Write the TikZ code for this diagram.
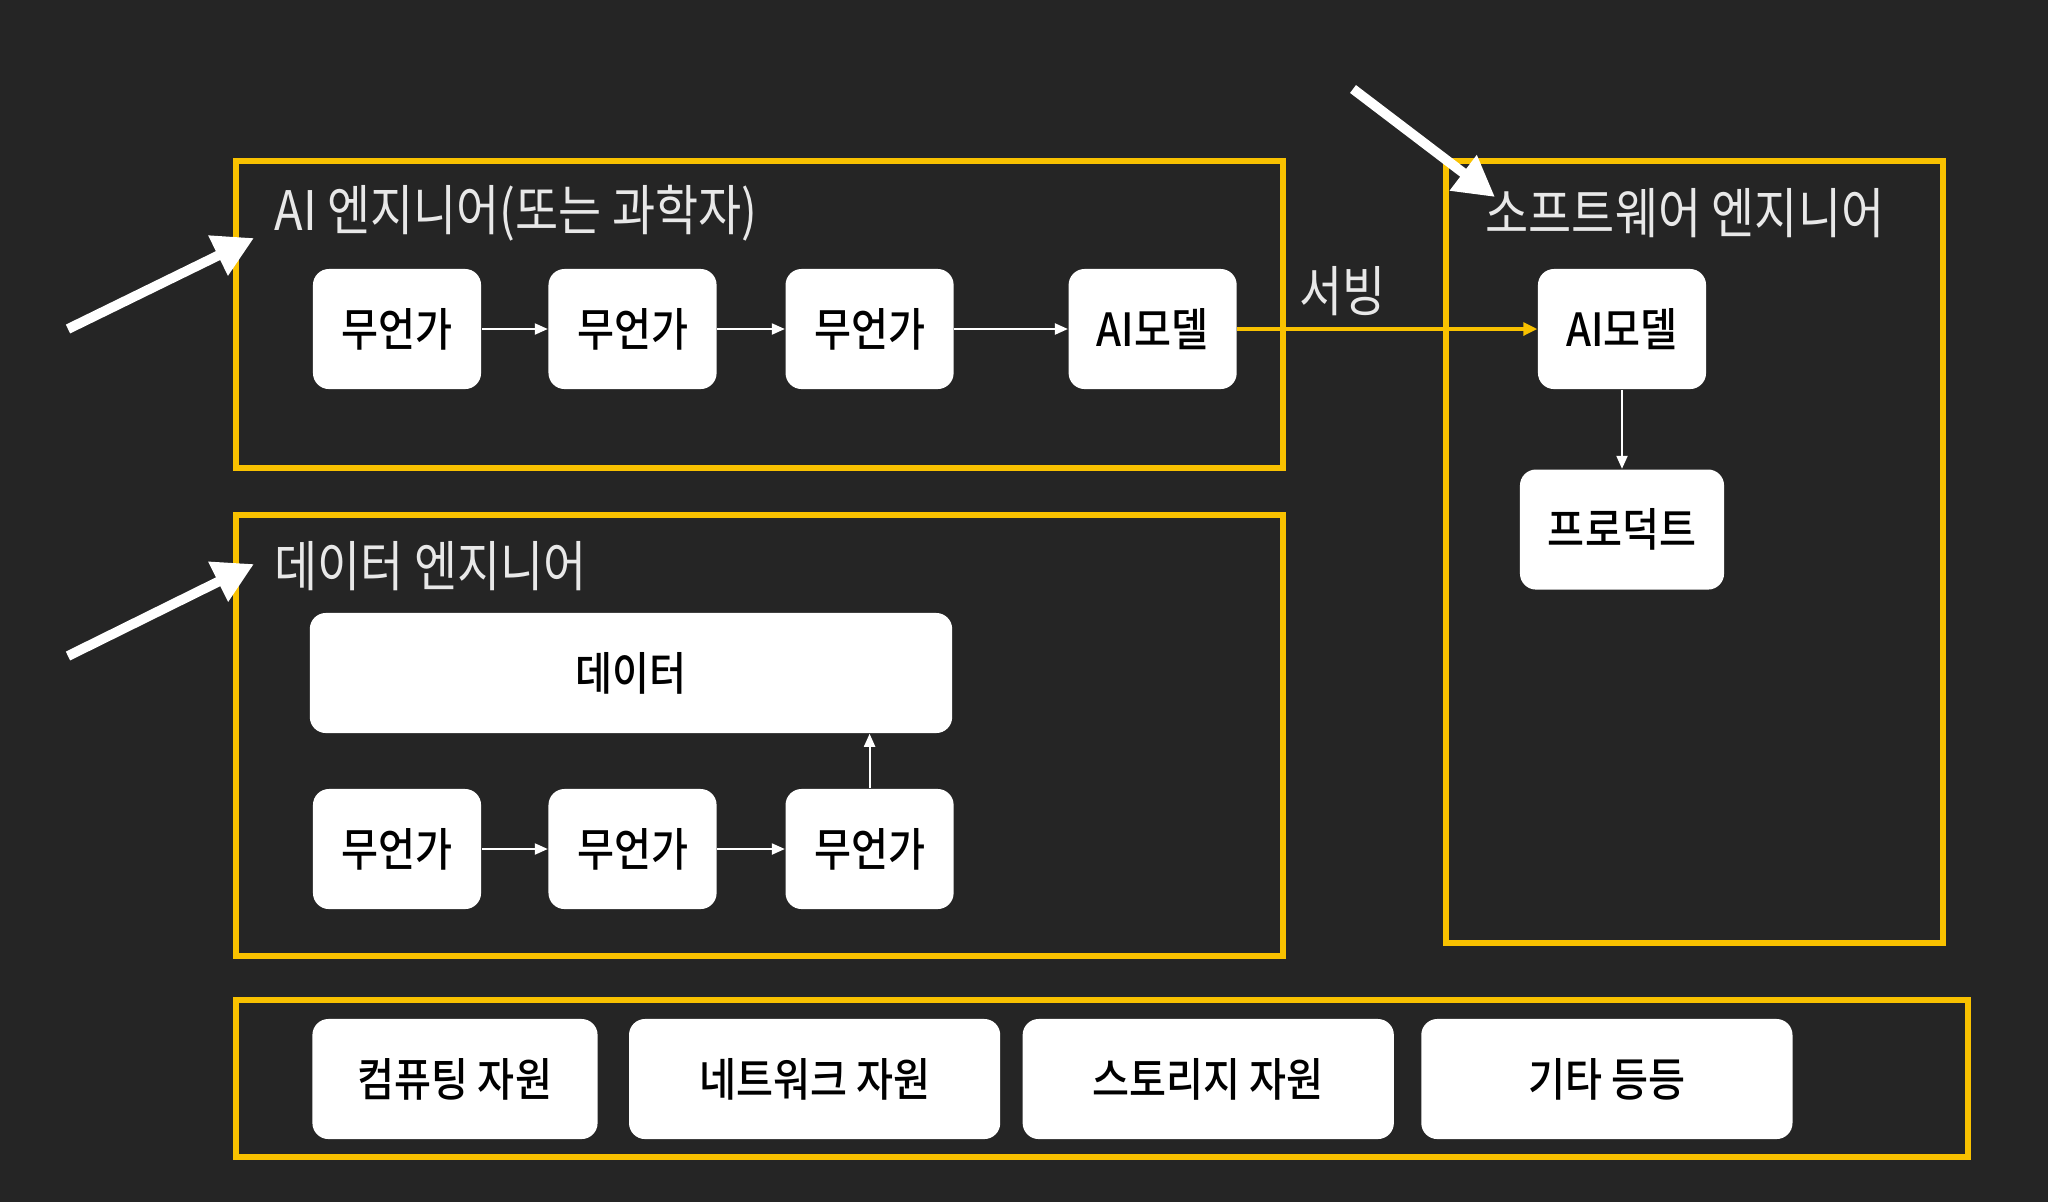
\documentclass[tikz,border=0pt]{standalone}
\usepackage{fontspec}
\usetikzlibrary{positioning,arrows.meta}
\newfontfamily\krfont[FakeStretch=0.86]{Noto Sans CJK KR}
\newfontfamily\krmedium[FakeStretch=0.88]{Noto Sans CJK KR Medium}
\definecolor{bgdark}{HTML}{252525}
\definecolor{frameyellow}{HTML}{F8C100}
\definecolor{titlegray}{HTML}{E8E8E8}
\def\dx{0.66cm}
\tikzstyle{box}=[fill=white,rounded corners=0.16cm,minimum width=1.68cm,minimum height=1.2cm,
  inner sep=0pt,text=black,font=\krmedium\fontsize{13}{15}\selectfont]
\tikzstyle{res}=[box,minimum width=3.71cm]
\tikzstyle{frame}=[draw=frameyellow,line width=1.5pt]
\tikzstyle{title}=[anchor=west,inner sep=0pt,text=titlegray,font=\krfont\fontsize{15.5}{18}\selectfont]
\tikzstyle{flow}=[-{Triangle[length=0.13cm,width=0.11cm]},white,line width=0.6pt]
\tikzstyle{serve}=[-{Triangle[length=0.14cm,width=0.13cm]},frameyellow,line width=0.9pt]
\tikzstyle{pointer}=[-{Triangle[length=0.4cm,width=0.42cm]},white,line width=2.8pt]
\newcommand{\newBox}[4]{\node[box,#3](#1)[#4]{#2};}
\newcommand{\newFlow}[3]{\draw[flow,#3] (#1) -- (#2);}

\begin{document}
\begin{tikzpicture}[x=0.01cm,y=-0.01cm,node distance=\dx]
    \fill[bgdark] (0,0) rectangle (2048,1202);
    \useasboundingbox (0,0) rectangle (2048,1202);

    % frames
    \draw[frame] (236,161) rectangle (1283,468);
    \draw[frame] (236,515) rectangle (1283,956);
    \draw[frame] (1446,161) rectangle (1943,943);
    \draw[frame] (236,1000) rectangle (1968,1157);

    % AI engineer
    \node[title] (aiT) at (274,213) {AI 엔지니어(또는 과학자)};
    \newBox{a1}{무언가}{}{at={(397,329)}}
    \newBox{a2}{무언가}{}{right=of a1}
    \newBox{a3}{무언가}{}{right=0.675cm of a2}
    \newBox{aM}{AI모델}{}{right=1.135cm of a3}
    \newFlow{a1}{a2}{}
    \newFlow{a2}{a3}{}
    \newFlow{a3}{aM}{}

    % data engineer
    \node[title] (dT) at (274,566) {데이터 엔지니어};
    \newBox{d1}{무언가}{}{at={(397,849)}}
    \newBox{d2}{무언가}{}{right=of d1}
    \newBox{d3}{무언가}{}{right=0.675cm of d2}
    \newBox{data}{데이터}{minimum width=6.42cm}{at={(631,673)}}
    \newFlow{d1}{d2}{}
    \newFlow{d2}{d3}{}
    \newFlow{d3.north}{d3.north |- data.south}{}

    % software engineer
    \node[title] (sT) at (1485,213) {소프트웨어 엔지니어};
    \newBox{sM}{AI모델}{}{at={(1622,329)}}
    \newBox{prod}{프로덕트}{minimum width=2.04cm}{below=0.79cm of sM}
    \newFlow{sM}{prod}{}
    \draw[serve] (aM) -- (sM) node[pos=0.35,above=0.12cm,inner sep=0pt,text=titlegray,
      font=\krfont\fontsize{15.5}{18}\selectfont] (srv) {서빙};

    % resources
    \node[res,minimum width=2.85cm] (r1) at (455,1079) {컴퓨팅 자원};
    \node[res,right=0.30cm of r1] (r2) {네트워크 자원};
    \node[res,right=0.21cm of r2] (r3) {스토리지 자원};
    \node[res,right=0.26cm of r3] (r4) {기타 등등};

    % pointers
    \coordinate (p1s) at (68,329);  \coordinate (p1e) at (254,238);
    \coordinate (p2s) at (68,656);  \coordinate (p2e) at (254,564);
    \coordinate (p3s) at (1353,89); \coordinate (p3e) at (1495,197);
    \draw[pointer] (p1s) -- (p1e);
    \draw[pointer] (p2s) -- (p2e);
    \draw[pointer] (p3s) -- (p3e);
\end{tikzpicture}
\end{document}
